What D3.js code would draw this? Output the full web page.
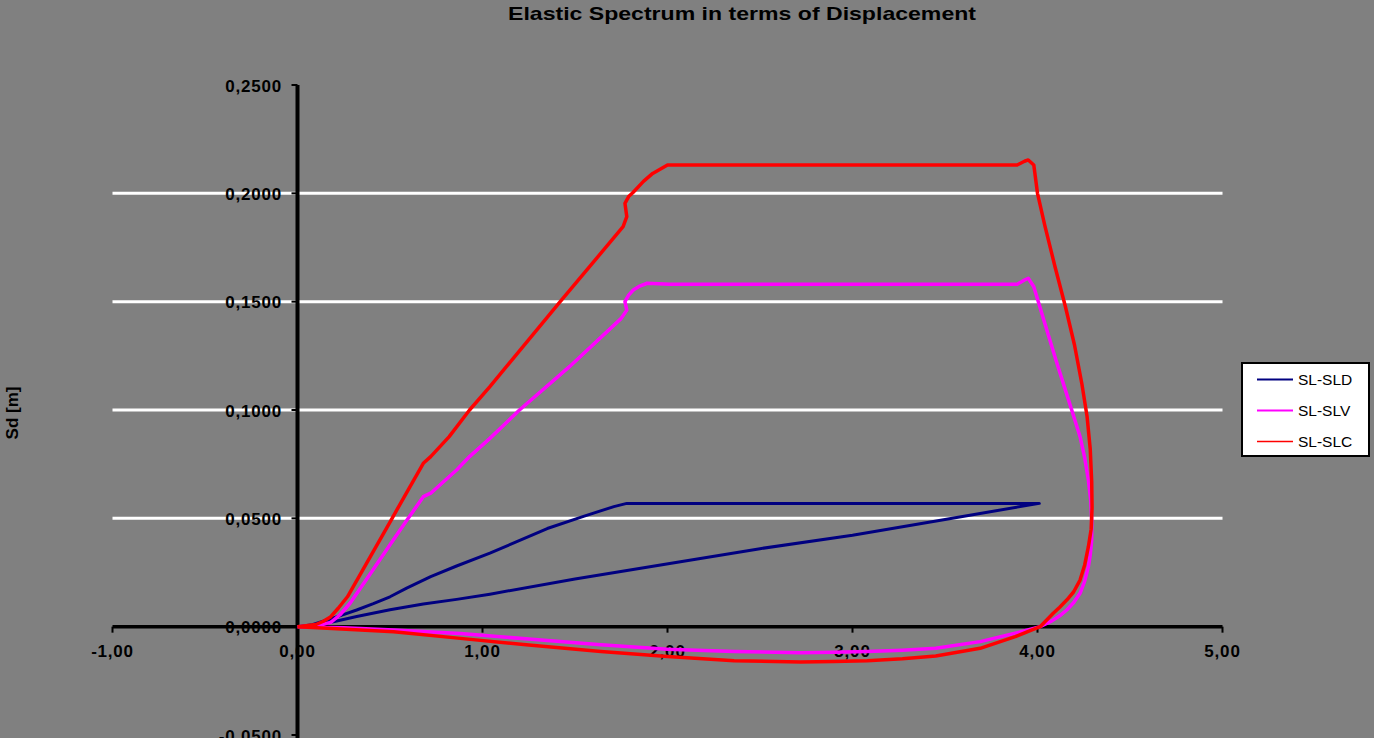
<!DOCTYPE html>
<html>
<head>
<meta charset="utf-8">
<script src="https://cdn.jsdelivr.net/npm/d3@7"></script>
<style>
  html, body { margin: 0; padding: 0; background: #808080; }
  svg { display: block; }
  text { font-family: "Liberation Sans", Arial, sans-serif; }
</style>
</head>
<body>
<svg id="chart" width="1374" height="738"></svg>
<script>
// ---- Data ----
const title = "Elastic Spectrum in terms of Displacement";
const yTitle = "Sd [m]";
const seriesNames = ["SL-SLD", "SL-SLV", "SL-SLC"];
const seriesColors = ["#000080", "#ff00ff", "#ff0000"];

const xTicks = [-1, 0, 1, 2, 3, 4, 5];
const xTickLabels = ["-1,00", "0,00", "1,00", "2,00", "3,00", "4,00", "5,00"];
const yTicks = [-0.05, 0, 0.05, 0.10, 0.15, 0.20, 0.25];
const yTickLabels = ["-0,0500", "0,0000", "0,0500", "0,1000", "0,1500", "0,2000", "0,2500"];

// SL-SLD (navy): rising branch, plateau, straight return branch
const sldX = [0, 0.08, 0.16, 0.24, 0.32, 0.41, 0.50, 0.59, 0.72, 0.86, 1.04, 1.35, 1.55, 1.71, 1.78, 2.50, 3.20, 4.01,
              3.50, 3.00, 2.50, 2.07, 1.50, 1.04, 0.86, 0.68, 0.50, 0.32, 0.20, 0.10, 0];
const sldY = [0, 0.0009, 0.0031, 0.0053, 0.0077, 0.0106, 0.0138, 0.0178, 0.0231, 0.0280, 0.0339, 0.0453, 0.0510, 0.0554, 0.0569, 0.0569, 0.0569, 0.0569,
              0.0495, 0.0422, 0.0360, 0.0300, 0.0220, 0.0150, 0.0126, 0.0105, 0.0078, 0.0047, 0.0024, 0.0007, 0];

// SL-SLV (magenta)
const slvX = [0, 0.10, 0.18, 0.23, 0.284, 0.39, 0.50, 0.59, 0.68, 0.72, 0.86, 0.93, 1.04, 1.20, 1.47, 1.75, 1.78, 1.77, 1.79, 1.815, 1.85, 1.89, 2.01,
              3.00, 3.89, 3.93, 3.95, 3.98, 4.05, 4.10, 4.15, 4.185, 4.23, 4.255, 4.275, 4.288, 4.293, 4.293, 4.285, 4.275, 4.255, 4.23, 4.195, 4.158, 4.12, 4.08, 4.014,
              3.88, 3.69, 3.45, 3.27, 3.08, 2.90, 2.72, 2.36, 2.00, 1.64, 1.25, 0.88, 0.52, 0.25, 0];
const slvY = [0, 0.0004, 0.0020, 0.0055, 0.0108, 0.0240, 0.0378, 0.0490, 0.0600, 0.0616, 0.0723, 0.0785, 0.0869, 0.1000, 0.1200, 0.1423, 0.1461, 0.1500, 0.1530, 0.1554, 0.1572, 0.1585, 0.1580,
              0.1580, 0.1580, 0.1600, 0.1608, 0.1569, 0.1370, 0.1230, 0.1094, 0.1000, 0.0877, 0.0780, 0.0677, 0.0580, 0.0492, 0.0400, 0.0330, 0.0277, 0.0210, 0.0154, 0.0110, 0.0077, 0.0050, 0.0028, 0,
              -0.0030, -0.0069, -0.0100, -0.0109, -0.0115, -0.0118, -0.0120, -0.0115, -0.0104, -0.0084, -0.0057, -0.0032, -0.0015, -0.0005, 0];

// SL-SLC (red)
const slcX = [0, 0.10, 0.14, 0.18, 0.22, 0.27, 0.34, 0.41, 0.50, 0.59, 0.68, 0.72, 0.82, 0.93, 1.04, 1.42, 1.76, 1.78, 1.77, 1.79, 1.815, 1.87, 1.92, 2.00,
              3.00, 3.89, 3.93, 3.95, 3.98, 4.00, 4.04, 4.095, 4.15, 4.20, 4.24, 4.268, 4.285, 4.293, 4.295, 4.290, 4.275, 4.255, 4.23, 4.195, 4.158, 4.12, 4.085, 4.014,
              3.88, 3.69, 3.45, 3.27, 3.08, 2.90, 2.72, 2.36, 2.00, 1.64, 1.25, 0.88, 0.52, 0.16, 0];
const slcY = [0, 0.0010, 0.0025, 0.0046, 0.0085, 0.0138, 0.0243, 0.0348, 0.0483, 0.0619, 0.0754, 0.0785, 0.0877, 0.1000, 0.1108, 0.1500, 0.1846, 0.1892, 0.1954, 0.1985, 0.2005, 0.2055, 0.2092, 0.2131,
              0.2131, 0.2131, 0.2148, 0.2154, 0.2131, 0.2000, 0.1850, 0.1660, 0.1480, 0.1300, 0.1120, 0.0970, 0.0820, 0.0670, 0.0550, 0.0450, 0.0369, 0.0285, 0.0215, 0.0160, 0.0123, 0.0090, 0.0062, 0,
              -0.0046, -0.0100, -0.0135, -0.0148, -0.0157, -0.0161, -0.0163, -0.0157, -0.0138, -0.0115, -0.0085, -0.0054, -0.0023, -0.0007, 0];

// ---- Drawing ----
const svg = d3.select("#chart");
const x = d3.scaleLinear().domain([-1, 5]).range([112.5, 1222.5]);
const y = d3.scaleLinear().domain([-0.05, 0.25]).range([735, 85]);

// title
svg.append("text")
  .attr("x", 742).attr("y", 20)
  .attr("text-anchor", "middle")
  .attr("font-size", 19).attr("font-weight", "bold")
  .attr("textLength", 468).attr("lengthAdjust", "spacingAndGlyphs")
  .attr("fill", "#000")
  .text(title);

// y axis title
svg.append("text")
  .attr("transform", "translate(18,413) rotate(-90)")
  .attr("text-anchor", "middle")
  .attr("font-size", 17).attr("font-weight", "bold")
  .attr("fill", "#000")
  .text(yTitle);

// gridlines
svg.append("g").selectAll("line")
  .data(yTicks.filter(v => v > 0.001 && v < 0.249))
  .join("line")
  .attr("x1", x(-1)).attr("x2", x(5))
  .attr("y1", d => y(d)).attr("y2", d => y(d))
  .attr("stroke", "#ffffff").attr("stroke-width", 3);

// x axis
svg.append("line")
  .attr("x1", x(-1)).attr("x2", x(5))
  .attr("y1", y(0)).attr("y2", y(0))
  .attr("stroke", "#000").attr("stroke-width", 3.5);
svg.append("g").selectAll("line")
  .data(xTicks)
  .join("line")
  .attr("x1", d => x(d)).attr("x2", d => x(d))
  .attr("y1", y(0)).attr("y2", y(0) + 6)
  .attr("stroke", "#000").attr("stroke-width", 2);
svg.append("g").selectAll("text")
  .data(xTicks)
  .join("text")
  .attr("x", d => x(d)).attr("y", y(0) + 30)
  .attr("text-anchor", "middle")
  .attr("font-size", 17).attr("font-weight", "bold")
  .attr("letter-spacing", 0.8)
  .attr("fill", "#000")
  .text((d, i) => xTickLabels[i]);

// y axis
svg.append("line")
  .attr("x1", x(0)).attr("x2", x(0))
  .attr("y1", y(0.25)).attr("y2", 738)
  .attr("stroke", "#000").attr("stroke-width", 4);
svg.append("g").selectAll("line")
  .data(yTicks)
  .join("line")
  .attr("x1", x(0) - 6).attr("x2", x(0))
  .attr("y1", d => y(d)).attr("y2", d => y(d))
  .attr("stroke", "#000").attr("stroke-width", 2);
svg.append("g").selectAll("text")
  .data(yTicks)
  .join("text")
  .attr("x", 282).attr("y", d => y(d) + 6.5)
  .attr("text-anchor", "end")
  .attr("font-size", 17).attr("font-weight", "bold")
  .attr("letter-spacing", 0.8)
  .attr("fill", "#000")
  .text((d, i) => yTickLabels[i]);

// series
const line = d3.line()
  .x(d => x(d[0])).y(d => y(d[1]))
  .curve(d3.curveLinear);

const series = [
  { name: seriesNames[0], color: seriesColors[0], xs: sldX, ys: sldY, w: 3 },
  { name: seriesNames[1], color: seriesColors[1], xs: slvX, ys: slvY, w: 3.5 },
  { name: seriesNames[2], color: seriesColors[2], xs: slcX, ys: slcY, w: 3.5 }
];

svg.append("g").selectAll("path")
  .data(series)
  .join("path")
  .attr("d", s => line(s.xs.map((v, i) => [v, s.ys[i]])))
  .attr("fill", "none")
  .attr("stroke", s => s.color)
  .attr("stroke-width", s => s.w)
  .attr("stroke-linejoin", "round");

// legend
const lg = svg.append("g");
lg.append("rect")
  .attr("x", 1242).attr("y", 363)
  .attr("width", 127).attr("height", 93)
  .attr("fill", "#ffffff").attr("stroke", "#000").attr("stroke-width", 2);
const legendW = [2, 2, 1.5];
const lgRows = lg.selectAll("g.row")
  .data(series)
  .join("g")
  .attr("class", "row")
  .attr("transform", (d, i) => `translate(0, ${379.5 + i * 31})`);
lgRows.append("line")
  .attr("x1", 1257).attr("x2", 1293)
  .attr("y1", 0).attr("y2", 0)
  .attr("stroke", d => d.color)
  .attr("stroke-width", (d, i) => legendW[i]);
lgRows.append("text")
  .attr("x", 1298).attr("y", 5.5)
  .attr("font-size", 15.5)
  .attr("fill", "#000")
  .text(d => d.name);
</script>
</body>
</html>
